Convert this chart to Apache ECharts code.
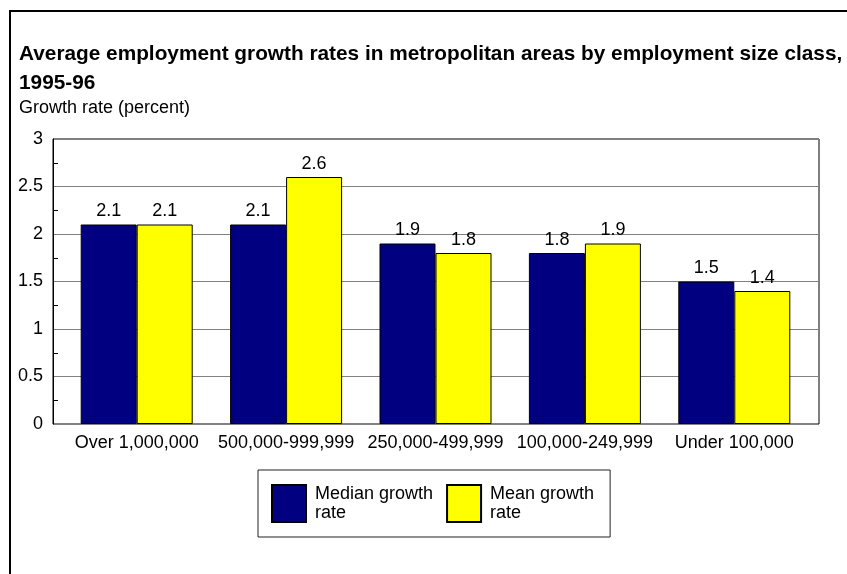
<!DOCTYPE html>
<html>
<head>
<meta charset="utf-8">
<title>Average employment growth rates</title>
<script src="https://cdn.jsdelivr.net/npm/echarts@6/dist/echarts.min.js"></script>
<style>
  html, body { margin: 0; padding: 0; background: #fff; }
  #chart { width: 847px; height: 574px; }
</style>
</head>
<body>
<div id="chart"></div>
<script>
const sizeClasses = ['Over 1,000,000', '500,000-999,999', '250,000-499,999', '100,000-249,999', 'Under 100,000']
const medianRate = [2.1, 2.1, 1.9, 1.8, 1.5]
const meanRate = [2.1, 2.6, 1.8, 1.9, 1.4]
const seriesNames = ['Median growth rate', 'Mean growth rate']

const FONT = 'Arial, "Liberation Sans", sans-serif'

const chart = echarts.init(document.getElementById('chart'), null, { renderer: 'canvas' })

const barLabel = {
  show: true,
  position: 'top',
  distance: 4,
  fontFamily: FONT,
  fontSize: 18,
  color: '#000',
}

chart.setOption({
  animation: false,
  backgroundColor: '#fff',
  textStyle: { fontFamily: FONT },
  graphic: [
    // outer frame, runs off the right and bottom edges like the original
    {
      type: 'rect',
      shape: { x: 10, y: 11, width: 900, height: 620 },
      style: { fill: 'none', stroke: '#000', lineWidth: 2 },
      silent: true,
    },
  ],
  title: [
    {
      text: 'Average employment growth rates in metropolitan areas by employment size class,\n1995-96',
      left: 19,
      top: 40,
      padding: 0,
      textStyle: { fontFamily: FONT, fontSize: 20.8, fontWeight: 'bold', color: '#000', lineHeight: 29 },
    },
    {
      text: 'Growth rate (percent)',
      left: 19,
      top: 99,
      padding: 0,
      textStyle: { fontFamily: FONT, fontSize: 18, fontWeight: 'normal', color: '#000', lineHeight: 18 },
    },
  ],
  legend: {
    data: seriesNames,
    left: 258,
    top: 470,
    orient: 'horizontal',
    padding: [14, 16, 14, 13],
    itemGap: 13,
    itemWidth: 34,
    itemHeight: 37,
    borderColor: '#222',
    borderWidth: 1,
    borderRadius: 0,
    icon: 'rect',
    selectedMode: false,
    formatter: name => name.replace(' rate', '\nrate'),
    textStyle: { fontFamily: FONT, fontSize: 18, lineHeight: 19, color: '#000', padding: [0, 0, 0, 4] },
  },
  grid: [
    // frame + value axis
    { left: 53, right: 28, top: 139, height: 285, show: true, borderColor: '#000', borderWidth: 1, backgroundColor: 'transparent', outerBoundsMode: 'none' },
    // bars sit slightly inset from the frame
    { left: 62, right: 38, top: 139, height: 285, outerBoundsMode: 'none' },
  ],
  xAxis: [
    { type: 'category', gridIndex: 0, data: sizeClasses, show: false },
    {
      type: 'category',
      gridIndex: 1,
      data: sizeClasses,
      axisLine: { show: false },
      axisTick: { show: false },
      axisLabel: { fontFamily: FONT, fontSize: 18, color: '#000', margin: 10, interval: 0 },
    },
  ],
  yAxis: [
    {
      type: 'value',
      gridIndex: 0,
      min: 0,
      max: 3,
      interval: 0.5,
      axisLine: { show: true, lineStyle: { color: '#000', width: 1 } },
      axisTick: { show: false, inside: true },
      minorTick: { show: true, splitNumber: 2, length: 5, lineStyle: { color: '#000', width: 1 } },
      axisLabel: { fontFamily: FONT, fontSize: 18, color: '#000', margin: 10 },
      splitLine: { show: true, lineStyle: { color: '#808080', width: 1 } },
    },
    { type: 'value', gridIndex: 1, min: 0, max: 3, show: false, splitLine: { show: false } },
  ],
  series: [
    {
      name: seriesNames[0],
      type: 'bar',
      xAxisIndex: 1,
      yAxisIndex: 1,
      data: medianRate,
      barWidth: 56,
      barGap: '0%',
      itemStyle: { color: '#000080', borderColor: '#000', borderWidth: 1 },
      label: barLabel,
    },
    {
      name: seriesNames[1],
      type: 'bar',
      xAxisIndex: 1,
      yAxisIndex: 1,
      data: meanRate,
      barWidth: 56,
      barGap: '0%',
      itemStyle: { color: '#ffff00', borderColor: '#000', borderWidth: 1 },
      label: barLabel,
    },
  ],
})

window.addEventListener('resize', () => chart.resize())
</script>
</body>
</html>
